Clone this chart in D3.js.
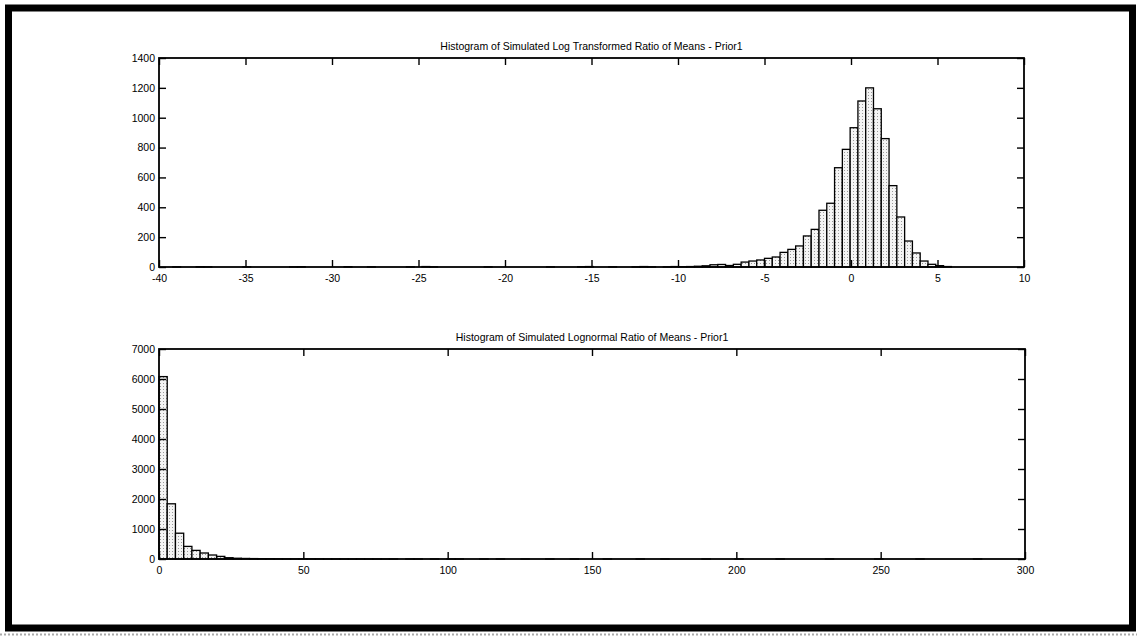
<!DOCTYPE html>
<html>
<head>
<meta charset="utf-8">
<script src="https://cdn.jsdelivr.net/npm/d3@7"></script>
<style>
  body { margin: 0; background: #fff; }
  svg text { font-family: "Liberation Sans", Arial, sans-serif; fill: #000; }
  .tick line { stroke: #000; stroke-width: 1.4; }
  .tick text { font-size: 10.5px; }
  .title { font-size: 10.5px; }
</style>
</head>
<body>
<div id="plot"></div>
<script>

// ---- data ----
// top panel: log transformed ratio of means, 100 bins
const topTitle = "Histogram of Simulated Log Transformed Ratio of Means - Prior1";
const topBinStart = -39.2;
const topBinWidth = 0.45;
const topCounts = [
    1, 0, 0, 2, 1, 0, 0, 0, 0, 1,
    0, 0, 0, 0, 0, 1, 2, 0, 0, 0,
    0, 0, 2, 0, 0, 1, 0, 0, 0, 0,
    1, 0, 3, 1, 0, 0, 0, 0, 0, 0,
    1, 0, 0, 0, 0, 0, 0, 0, 1, 0,
    0, 0, 2, 3, 0, 0, 1, 0, 0, 1,
    3, 1, 0, 1, 3, 2, 3, 5, 8, 15,
    17, 10, 18, 33, 40, 47, 58, 67, 98, 118,
    141, 208, 252, 380, 427, 665, 788, 933, 1112, 1200,
    1060, 860, 545, 335, 174, 94, 40, 18, 9, 3
];
const topXTicks = [-40, -35, -30, -25, -20, -15, -10, -5, 0, 5, 10];
const topYTicks = [0, 200, 400, 600, 800, 1000, 1200, 1400];

// bottom panel: lognormal ratio of means, 100 bins
const bottomTitle = "Histogram of Simulated Lognormal Ratio of Means - Prior1";
const bottomBinStart = 0;
const bottomBinWidth = 2.85;
const bottomCounts = [
    6080, 1840, 860, 420, 287, 200, 133, 87, 43, 25,
    18, 14, 10, 8, 6, 5, 4, 4, 3, 3,
    2, 2, 2, 1, 2, 1, 1, 1, 1, 0,
    1, 1, 0, 1, 0, 1, 1, 0, 0, 1,
    0, 1, 0, 0, 1, 0, 0, 1, 0, 0,
    1, 0, 0, 0, 1, 0, 0, 0, 1, 0,
    0, 1, 0, 0, 0, 0, 1, 0, 0, 0,
    1, 0, 0, 0, 0, 1, 0, 0, 0, 0,
    0, 1, 0, 0, 0, 0, 0, 1, 0, 0,
    0, 0, 1, 0, 0, 0, 0, 0, 0, 1
];
const bottomXTicks = [0, 50, 100, 150, 200, 250, 300];
const bottomYTicks = [0, 1000, 2000, 3000, 4000, 5000, 6000, 7000];

const W = 1137, H = 638;

const svg = d3.select("#plot")
    .append("svg")
        .attr("width", W)
        .attr("height", H);

// stipple fill used by the bars
const pat = svg.append("defs").append("pattern")
    .attr("id", "stipple")
    .attr("width", 3)
    .attr("height", 3)
    .attr("patternUnits", "userSpaceOnUse");
pat.append("rect").attr("width", 3).attr("height", 3).attr("fill", "#f4f4f4");
pat.append("rect").attr("x", 1).attr("y", 1).attr("width", 1).attr("height", 1).attr("fill", "#9a9a9a");

// thick outer frame of the scanned page
svg.append("rect")
    .attr("x", 8.5)
    .attr("y", 8)
    .attr("width", 1124)
    .attr("height", 620)
    .attr("fill", "none")
    .attr("stroke", "#000")
    .attr("stroke-width", 7);

// scan noise strip under the frame
svg.append("line")
    .attr("x1", 0).attr("x2", W)
    .attr("y1", 634.5).attr("y2", 634.5)
    .attr("stroke", "#aaa")
    .attr("stroke-width", 2)
    .attr("stroke-dasharray", "2,2");

const fmt = d => String(d);

const drawPanel = (cfg) => {
    const g = svg.append("g")
        .attr("transform", `translate(${cfg.left},${cfg.top})`);

    const x = d3.scaleLinear().domain(cfg.xDomain).range([0, cfg.width]);
    const y = d3.scaleLinear().domain(cfg.yDomain).range([cfg.height, 0]);

    // bars
    g.selectAll(".bar")
        .data(cfg.counts)
        .join("rect")
        .attr("class", "bar")
        .attr("x", (d, i) => x(cfg.binStart + i * cfg.binWidth))
        .attr("width", (d, i) => x(cfg.binStart + (i + 1) * cfg.binWidth) - x(cfg.binStart + i * cfg.binWidth))
        .attr("y", d => y(d))
        .attr("height", d => cfg.height - y(d))
        .attr("fill", "url(#stipple)")
        .attr("stroke", "#000")
        .attr("stroke-width", 1.3);

    // axes with ticks pointing inward, matlab style
    const bottomAx = d3.axisBottom(x).tickValues(cfg.xTicks).tickFormat(fmt)
        .tickSizeInner(-7).tickSizeOuter(0).tickPadding(8);
    const topAx = d3.axisTop(x).tickValues(cfg.xTicks).tickFormat("")
        .tickSizeInner(-7).tickSizeOuter(0);
    const leftAx = d3.axisLeft(y).tickValues(cfg.yTicks).tickFormat(fmt)
        .tickSizeInner(-7).tickSizeOuter(0).tickPadding(4);
    const rightAx = d3.axisRight(y).tickValues(cfg.yTicks).tickFormat("")
        .tickSizeInner(-7).tickSizeOuter(0);

    g.append("g").attr("transform", `translate(0,${cfg.height})`).call(bottomAx);
    g.append("g").call(topAx);
    g.append("g").call(leftAx);
    g.append("g").attr("transform", `translate(${cfg.width},0)`).call(rightAx);
    g.selectAll(".domain").remove();
    g.selectAll(".tick text").attr("fill", "#000");

    // box
    g.append("rect")
        .attr("width", cfg.width)
        .attr("height", cfg.height)
        .attr("fill", "none")
        .attr("stroke", "#000")
        .attr("stroke-width", 1.8);

    // title
    g.append("text")
        .attr("class", "title")
        .attr("x", cfg.width / 2)
        .attr("y", -8)
        .attr("text-anchor", "middle")
        .text(cfg.title);
};

drawPanel({
    left: 159, top: 58, width: 865, height: 209,
    xDomain: [-40, 10], yDomain: [0, 1400],
    binStart: topBinStart, binWidth: topBinWidth, counts: topCounts,
    xTicks: topXTicks, yTicks: topYTicks, title: topTitle
});

drawPanel({
    left: 159, top: 349, width: 866, height: 210,
    xDomain: [0, 300], yDomain: [0, 7000],
    binStart: bottomBinStart, binWidth: bottomBinWidth, counts: bottomCounts,
    xTicks: bottomXTicks, yTicks: bottomYTicks, title: bottomTitle
});

</script>
</body>
</html>
